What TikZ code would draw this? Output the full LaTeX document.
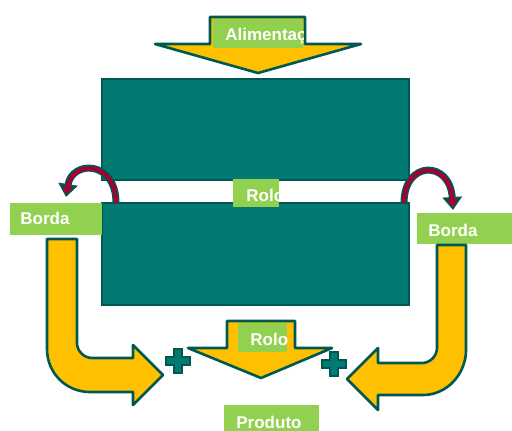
\documentclass[tikz,border=0pt]{standalone}
\usepackage{fontspec}
\setmainfont{Liberation Sans}
\usepackage{tikz}
\usetikzlibrary{arrows.meta,calc,positioning}
\definecolor{rolteal}{RGB}{0,122,114}
\definecolor{roledge}{RGB}{0,88,82}
\definecolor{fluxo}{RGB}{255,192,0}
\definecolor{rotulo}{RGB}{146,208,80}
\definecolor{giro}{RGB}{165,0,52}

\begin{document}
\begin{tikzpicture}[x=0.5pt,y=-0.5pt,>=Stealth,
  roller/.style={draw=roledge,fill=rolteal,line width=1.2pt,minimum width=153.5pt,inner sep=0pt},
  flow/.style={draw=roledge,fill=fluxo,line width=1.3pt,line join=round},
  tag/.style={fill=rotulo,inner sep=0pt},
  tagtext/.style={anchor=base west,inner sep=0pt,text=white,font=\bfseries\fontsize{8.5}{10}\selectfont},
  somasign/.pic={\draw[roledge,fill=rolteal,line width=1pt] (-4,-12) -- (4,-12) -- (4,-4) -- (12,-4) -- (12,4) -- (4,4)
    -- (4,12) -- (-4,12) -- (-4,4) -- (-12,4) -- (-12,-4) -- (-4,-4) -- cycle;}]
  \useasboundingbox (0,0) rectangle (512,430);
  % rolos
  \node[roller,minimum height=50.5pt] (rolTop) at (255.5,129.5) {};
  \node[roller,minimum height=51pt] (rolBot) at (255.5,254) {};
  % alimentacao
  \draw[flow] (210,17) -- (305,17) -- (305,44) -- (361,44) -- (258,73) -- (155,44) -- (210,44) -- cycle;
  \node[tag,minimum width=45pt,minimum height=14.5pt] (alimBox) at (258,33.5) {};
  \begin{scope}
    \clip (alimBox.south west) rectangle (alimBox.north east);
    \node[tagtext] (alimText) at (225,40) {Alimentação};
  \end{scope}
  % rolo (meio)
  \node[tag,minimum width=23pt,minimum height=14pt] (rolBox) at (256,193) {};
  \begin{scope}
    \clip (rolBox.south west) rectangle (rolBox.north east);
    \node[tagtext] (rolText) at (246,201) {Rolo};
  \end{scope}
  % bordas
  \node[tag,minimum width=46pt,minimum height=16pt] (bordaL) at (56,219) {};
  \node[tagtext] (bordaLText) at (20,224) {Borda};
  \node[tag,minimum width=47.5pt,minimum height=15.5pt] (bordaR) at (464.5,228.5) {};
  \node[tagtext] (bordaRText) at (428,236) {Borda};
  % giro das bordas
  \coordinate (girL0) at (116,203);
  \coordinate (girL1) at (66,197);
  \coordinate (girR0) at (404,203);
  \coordinate (girR1) at (453,210);
  \draw[roledge,line width=3.5pt,-{Triangle[length=6.5pt,width=9.5pt]}] (girL0) .. controls (116,160) and (72,160) .. (girL1);
  \draw[giro,line width=2pt,shorten >=1.4pt,-{Triangle[length=4pt,width=5.5pt]}] (girL0) .. controls (116,160) and (72,160) .. (girL1);
  \draw[roledge,line width=3.5pt,-{Triangle[length=6.5pt,width=9.5pt]}] (girR0) .. controls (404,160) and (450,160) .. (girR1);
  \draw[giro,line width=2pt,shorten >=1.4pt,-{Triangle[length=4pt,width=5.5pt]}] (girR0) .. controls (404,160) and (450,160) .. (girR1);
  % bordas voltando
  \draw[flow] (47,239) -- (77,239) -- (77,343) .. controls (77,351) and (84,358) .. (92,358) -- (133,358) -- (133,345) -- (163,375)
    -- (133,405) -- (133,392) -- (90,392) .. controls (66,392) and (47,373) .. (47,349) -- cycle;
  \draw[flow] (437,245) -- (466,245) -- (466,350) .. controls (466,374) and (447,395) .. (423,395) -- (378,395) -- (378,410) -- (347,379)
    -- (378,348) -- (378,363) -- (422,363) .. controls (430,363) and (437,356) .. (437,348) -- cycle;
  % rolo (saida)
  \draw[flow] (227,321) -- (295,321) -- (295,348) -- (332,348) -- (261,378) -- (188,348) -- (227,348) -- cycle;
  \node[tag,minimum width=24.5pt,minimum height=14.5pt] (saidaBox) at (262.5,337.5) {};
  \begin{scope}
    \clip (saidaBox.south west) rectangle (saidaBox.north east);
    \node[tagtext] (saidaText) at (250,345) {Rolo};
  \end{scope}
  \pic at (178,361) {somasign};
  \pic at (334,364) {somasign};
  % produto
  \node[tag,minimum width=47.5pt,minimum height=15pt] (prodBox) at (271.5,420) {};
  \node[tagtext] (prodText) at (236,428) {Produto};
\end{tikzpicture}
\end{document}
